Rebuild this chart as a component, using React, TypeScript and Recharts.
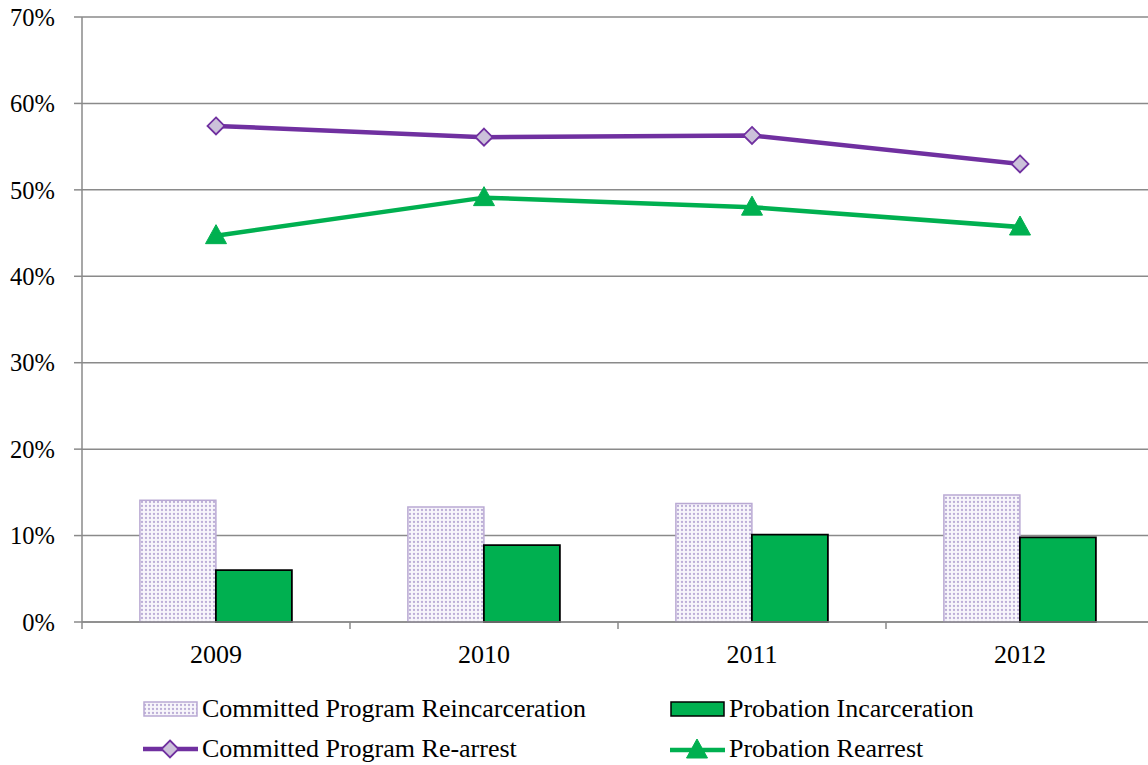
import {
  ComposedChart,
  Bar,
  Line,
  XAxis,
  YAxis,
  CartesianGrid,
  Legend,
} from 'recharts';

const years = ['2009', '2010', '2011', '2012'];
const committedReincarceration = [14.1, 13.3, 13.7, 14.7];
const probationIncarceration = [6.0, 8.9, 10.1, 9.8];
const committedRearrest = [57.4, 56.1, 56.3, 53.0];
const probationRearrest = [44.7, 49.1, 48.0, 45.7];
const yTicks = [0, 10, 20, 30, 40, 50, 60, 70];

const data = years.map((year, i) => ({
  year,
  reinc: committedReincarceration[i],
  probInc: probationIncarceration[i],
  rearrest: committedRearrest[i],
  probRearrest: probationRearrest[i],
}));

const FONT = '"Liberation Serif", "Times New Roman", serif';
const FONT_SIZE = 26;
const PURPLE = '#7030a0';
const LAVENDER = '#ccc1da';
const GREEN = '#00b050';
const GRID = '#8a8a8a';

const CHART_W = 1154;
const CHART_H = 765;
const PLOT_LEFT = 82;
const PLOT_TOP = 17;
const PLOT_BOTTOM = 622;
const BAND = (CHART_W - PLOT_LEFT) / years.length;

function XTick({ x, payload }: any) {
  const left = x - BAND / 2;
  return (
    <g>
      <line x1={left} x2={left} y1={PLOT_BOTTOM} y2={PLOT_BOTTOM + 7} stroke={GRID} strokeWidth={1.5} />
      <text x={x} y={663} textAnchor="middle" fontFamily={FONT} fontSize={FONT_SIZE} fill="#000">
        {payload.value}
      </text>
    </g>
  );
}

function Diamond({ cx, cy }: any) {
  if (cx == null || cy == null) return null;
  const r = 8.5;
  return (
    <path
      d={`M${cx},${cy - r} L${cx + r},${cy} L${cx},${cy + r} L${cx - r},${cy} Z`}
      fill={LAVENDER}
      stroke={PURPLE}
      strokeWidth={1.8}
    />
  );
}

function Triangle({ cx, cy }: any) {
  if (cx == null || cy == null) return null;
  return (
    <path
      d={`M${cx},${cy - 11} L${cx + 10.5},${cy + 8} L${cx - 10.5},${cy + 8} Z`}
      fill={GREEN}
      stroke={GREEN}
      strokeWidth={1}
    />
  );
}

function DotsPattern() {
  return (
    <pattern id="dots" width={4} height={4} patternUnits="userSpaceOnUse">
      <rect width={4} height={4} fill="#f8f6fb" />
      <circle cx={2} cy={2} r={1.15} fill="#bcaed7" />
    </pattern>
  );
}

function LegendContent() {
  const text = { fontFamily: FONT, fontSize: FONT_SIZE, color: '#000', whiteSpace: 'nowrap' as const };
  const item = (left: number, top: number, swatch: JSX.Element, label: string) => (
    <div style={{ position: 'absolute', left, top: top - 14, height: 28, display: 'flex', alignItems: 'center' }}>
      {swatch}
      <span style={{ ...text, marginLeft: 3 }}>{label}</span>
    </div>
  );
  return (
    <div style={{ position: 'relative', width: 1148, height: 75 }}>
      {item(
        143,
        19,
        <svg width={56} height={20}>
          <rect x={1} y={3} width={53} height={14} fill="url(#dots)" stroke="#b9a9d3" strokeWidth={1.5} />
        </svg>,
        'Committed Program Reincarceration',
      )}
      {item(
        670,
        19,
        <svg width={56} height={20}>
          <rect x={1} y={3} width={53} height={14} fill={GREEN} stroke="#000" strokeWidth={1.5} />
        </svg>,
        'Probation Incarceration',
      )}
      {item(
        143,
        59,
        <svg width={56} height={20}>
          <line x1={0} x2={55} y1={10} y2={10} stroke={PURPLE} strokeWidth={4.5} />
          <Diamond cx={27} cy={10} />
        </svg>,
        'Committed Program Re-arrest',
      )}
      {item(
        670,
        59,
        <svg width={56} height={22}>
          <line x1={0} x2={55} y1={12} y2={12} stroke={GREEN} strokeWidth={4.5} />
          <Triangle cx={27} cy={12} />
        </svg>,
        'Probation Rearrest',
      )}
    </div>
  );
}

export default function App() {
  return (
    <div
      style={{
        position: 'absolute',
        left: 0,
        top: 0,
        width: 1148,
        height: 765,
        overflow: 'hidden',
        background: '#fff',
      }}
    >
      <svg width={0} height={0} style={{ position: 'absolute' }}>
        <defs>
          <DotsPattern />
        </defs>
      </svg>
      <ComposedChart
        width={CHART_W}
        height={CHART_H}
        data={data}
        margin={{ top: PLOT_TOP, right: 0, left: 0, bottom: 0 }}
        barCategoryGap="21.6%"
        barGap={0}
      >
        <CartesianGrid vertical={false} stroke={GRID} strokeWidth={1.5} />
        <XAxis
          dataKey="year"
          height={CHART_H - PLOT_BOTTOM}
          axisLine={{ stroke: GRID, strokeWidth: 1.5 }}
          tickLine={false}
          tick={<XTick />}
          interval={0}
        />
        <YAxis
          width={PLOT_LEFT}
          domain={[0, 70]}
          ticks={yTicks}
          tickFormatter={(v: number) => `${v}%`}
          axisLine={{ stroke: GRID, strokeWidth: 1.5 }}
          tickLine={{ stroke: GRID, strokeWidth: 1.5 }}
          tickSize={8}
          tickMargin={19}
          tick={{ fontFamily: FONT, fontSize: 24.5, fill: '#000' }}
        />
        <Bar dataKey="reinc" fill="url(#dots)" stroke="#b9a9d3" strokeWidth={1.5} isAnimationActive={false} />
        <Bar dataKey="probInc" fill={GREEN} stroke="#000" strokeWidth={1.8} isAnimationActive={false} />
        <Line
          dataKey="rearrest"
          stroke={PURPLE}
          strokeWidth={4.5}
          dot={<Diamond />}
          activeDot={false}
          isAnimationActive={false}
        />
        <Line
          dataKey="probRearrest"
          stroke={GREEN}
          strokeWidth={4.5}
          dot={<Triangle />}
          activeDot={false}
          isAnimationActive={false}
        />
        <Legend
          layout="horizontal"
          verticalAlign="middle"
          align="center"
          content={<LegendContent />}
          wrapperStyle={{ position: 'absolute', top: 690, left: 0, width: 1148, height: 75 }}
        />
      </ComposedChart>
    </div>
  );
}
